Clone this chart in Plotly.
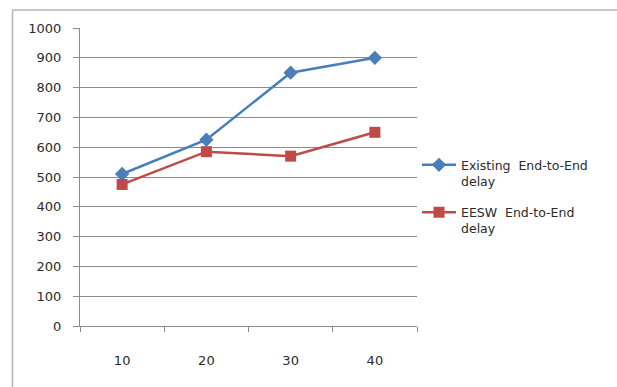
import plotly.graph_objects as go

# Number of nodes on the x axis
nodes = ["10", "20", "30", "40"]

# End-to-end delay for each scheme
existing_delay = [510, 625, 850, 900]
eesw_delay = [475, 585, 570, 650]

series_names = ["Existing  End-to-End<br>delay", "EESW  End-to-End<br>delay"]

GRID = "#8c8c8c"
FONT = dict(family="DejaVu Sans", size=13, color="#2b2b2b")

fig = go.Figure()
fig.add_trace(go.Scatter(
    x=nodes, y=existing_delay, name=series_names[0], mode="lines+markers",
    legendgroup="existing",
    line=dict(color="#4a7ebb", width=2.5),
    marker=dict(symbol="diamond", size=11, color="#4a7ebb"),
))
fig.add_trace(go.Scatter(
    x=nodes, y=eesw_delay, name=series_names[1], mode="lines+markers",
    legendgroup="eesw",
    line=dict(color="#be4b48", width=2.5),
    marker=dict(symbol="square", size=11, color="#be4b48"),
))

fig.update_layout(
    width=617, height=387,
    margin=dict(l=80, r=200, t=28, b=61),
    paper_bgcolor="white", plot_bgcolor="white",
    font=FONT,
    showlegend=True,
    legend=dict(
        x=1.0, xanchor="left", y=0.59, yanchor="top",
        valign="top", tracegroupgap=12, itemwidth=34,
        font=dict(family="DejaVu Sans", size=12.5, color="#2b2b2b"),
        bgcolor="rgba(0,0,0,0)",
    ),
    xaxis=dict(
        type="category", range=[-0.5, 3.5], tickson="boundaries",
        showgrid=False, showline=True, linecolor=GRID, linewidth=1,
        ticks="outside", ticklen=5, tickcolor=GRID, tickwidth=1,
        ticklabelstandoff=22, fixedrange=True,
    ),
    yaxis=dict(
        range=[0, 1000], dtick=100, tick0=0,
        showgrid=True, gridcolor=GRID, gridwidth=1,
        showline=True, linecolor=GRID, linewidth=1,
        ticks="outside", ticklen=6, tickcolor=GRID, tickwidth=1,
        ticklabelstandoff=9, zeroline=False, fixedrange=True,
    ),
    shapes=[
        # chart frame: top edge and left edge
        dict(type="line", xref="paper", yref="paper",
             x0=-0.2003, x1=1.6, y0=1.0604, y1=1.0604,
             line=dict(color="#b5b5b5", width=1.5)),
        dict(type="line", xref="paper", yref="paper",
             x0=-0.2003, x1=-0.2003, y0=1.0604, y1=-0.3,
             line=dict(color="#b5b5b5", width=1.5)),
    ],
)

fig.write_html("out.html")
